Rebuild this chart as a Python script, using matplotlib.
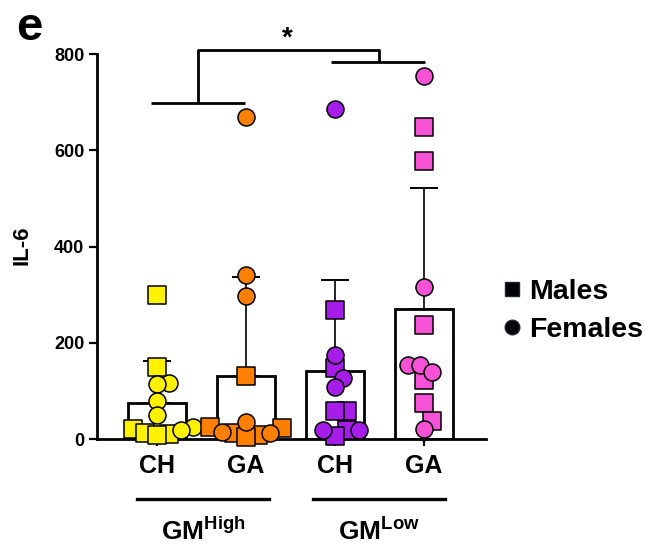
import numpy as np
import matplotlib.pyplot as plt
import matplotlib.transforms as mtransforms
from matplotlib.lines import Line2D

plt.rcParams['font.family'] = ['Liberation Sans', 'DejaVu Sans']
plt.rcParams['font.weight'] = 'bold'
plt.rcParams['mathtext.fontset'] = 'custom'
plt.rcParams['mathtext.rm'] = 'Liberation Sans:bold'
plt.rcParams['mathtext.bf'] = 'Liberation Sans:bold'

# IL-6 per animal, split by sex, for each diet / microbiota group
groups = ['CH', 'GA', 'CH', 'GA']
colors = ['#FFF200', '#FF8000', '#A61CE8', '#F552D6']
males = [
    [300, 150, 20, 12, 10, 8],
    [130, 25, 22, 12, 8, 5],
    [269, 148, 59, 59, 19, 6],
    [649, 578, 236, 122, 74, 38],
]
females = [
    [116, 114, 79, 50, 25, 19],
    [669, 340, 297, 36, 15, 12],
    [685, 174, 127, 108, 19, 19],
    [755, 316, 153, 153, 140, 21],
]
gm_labels = ['GM$^{\\mathrm{High}}$', 'GM$^{\\mathrm{Low}}$']
yticks = [0, 200, 400, 600, 800]


def swarm_offsets(ax, center, vals, diam=10.5, step=4.0):
    # spread points sideways (in pixels), letting markers overlap a little
    pix = ax.transData.transform(np.column_stack([np.full(len(vals), center), vals]))
    unit = ax.transData.transform((1, 0))[0] - ax.transData.transform((0, 0))[0]
    offs = np.zeros(len(vals))
    placed = []
    for i in np.argsort(vals):
        py = pix[i, 1]
        for k in range(80):
            off = ((k + 1) // 2) * step * (1 if k % 2 else -1)
            if all((off - ox) ** 2 + (py - oy) ** 2 >= diam ** 2 for ox, oy in placed):
                break
        placed.append((off, py))
        offs[i] = off
    return center + offs / unit


fig = plt.figure(figsize=(6.48, 5.5), dpi=100)
ax = fig.add_axes([97 / 648, 1 - 439 / 550, (486 - 97) / 648, (439 - 54) / 550])
ax.set_xlim(-0.674, 3.70)
ax.set_ylim(0, 800)

x = np.arange(len(groups))
allvals = [np.array(m + f, dtype=float) for m, f in zip(males, females)]
means = np.array([v.mean() for v in allvals])
sds = np.array([v.std(ddof=1) for v in allvals])

ax.bar(x, means, width=0.65, color='white', edgecolor='black', linewidth=2.0, zorder=1)
ax.errorbar(x, means, yerr=[np.zeros(len(x)), sds], fmt='none', ecolor='black',
            elinewidth=1.2, capsize=10, capthick=1.4, zorder=2)

for i in x:
    vals = allvals[i]
    marks = ['s'] * len(males[i]) + ['o'] * len(females[i])
    xs = swarm_offsets(ax, i, vals)
    for xx, yy, mk in zip(xs, vals, marks):
        ax.scatter(xx, yy, marker=mk, s=150, color=colors[i], edgecolor='black',
                   linewidth=1.1, zorder=3, clip_on=False)

for side in ['top', 'right']:
    ax.spines[side].set_visible(False)
for side in ['left', 'bottom']:
    ax.spines[side].set_linewidth(2.0)

ax.set_yticks(yticks)
ax.set_xticks(x)
ax.set_xticklabels(groups, fontsize=18, fontweight='bold')
ax.tick_params(axis='y', labelsize=13, width=1.6, length=6, pad=3)
ax.tick_params(axis='x', width=1.6, length=5, pad=6)
ax.set_ylabel('IL-6', fontsize=16, fontweight='bold')
ax.yaxis.set_label_coords(-0.165, 0.504)

# significance bracket
bk = dict(color='black', lw=2.0, clip_on=False, solid_capstyle='butt')
ax.plot([-0.067, 0.99], [698, 698], **bk)
ax.plot([0.46, 0.46, 2.5, 2.5], [698, 808, 808, 783], **bk)
ax.plot([1.96, 3.01], [783, 783], **bk)
ax.text(1.47, 818, '*', fontsize=20, fontweight='bold', ha='center', va='baseline')

# group lines and labels under the axis
tr = mtransforms.blended_transform_factory(ax.transData, fig.transFigure)
for (x0, x1), xc, lab in zip([(-0.228, 1.262), (1.756, 3.236)], [0.52, 2.5], gm_labels):
    ax.plot([x0, x1], [1 - 499 / 550] * 2, transform=tr, color='black', lw=2.4, clip_on=False)
    ax.text(xc, 1 - 531 / 550, 'GM' + lab[2:], transform=tr, ha='center', va='center',
            fontsize=19, fontweight='bold')

handles = [
    Line2D([], [], marker='s', ls='', color='black', markeredgecolor='#1b2838', markersize=10),
    Line2D([], [], marker='o', ls='', color='black', markeredgecolor='#1b2838', markersize=10.5),
]
fig.legend(handles, ['Males', 'Females'], loc='center left', bbox_to_anchor=(478 / 648, 1 - 311 / 550),
           frameon=False, prop={'size': 20.5, 'weight': 'bold'}, handlelength=0.6,
           handletextpad=0.3, labelspacing=0.45)

fig.text(16 / 648, 1 - 40 / 550, 'e', fontsize=34, fontweight='bold', va='baseline')

fig.savefig('out.png', dpi=100)
